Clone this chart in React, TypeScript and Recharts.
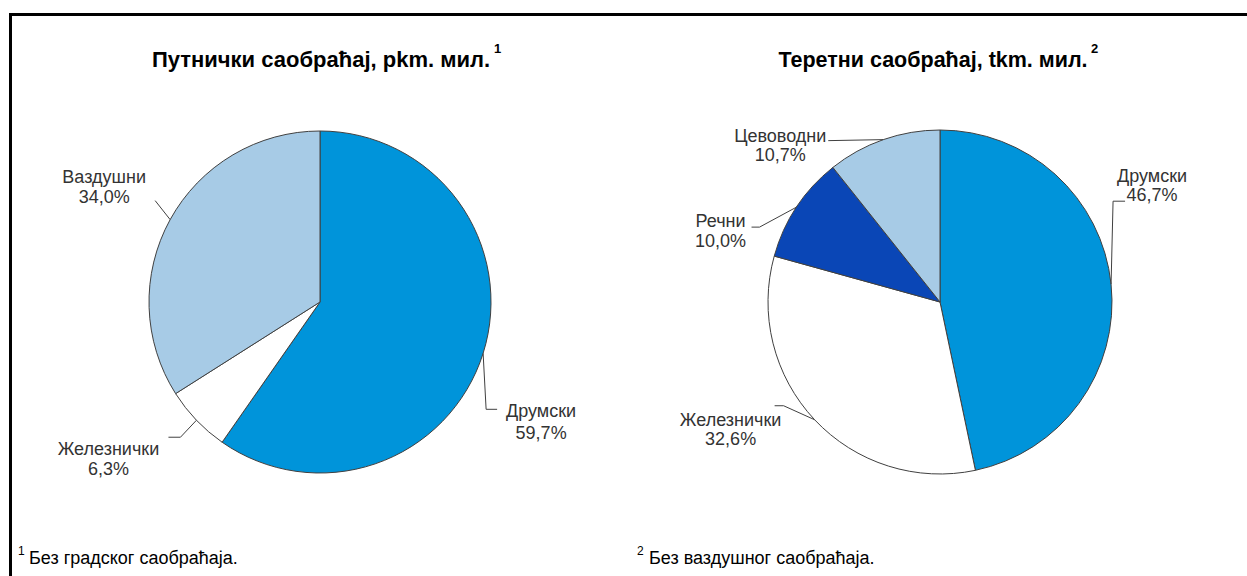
import React from 'react';
import { PieChart, Pie, Cell } from 'recharts';

const passengerNames = ['Друмски', 'Железнички', 'Ваздушни'];
const passengerValues = [59.7, 6.3, 34.0];
const freightNames = ['Друмски', 'Железнички', 'Речни', 'Цевоводни'];
const freightValues = [46.7, 32.6, 10.0, 10.7];

const passengerColors = ['#0094DA', '#FFFFFF', '#A7CBE6'];
const freightColors = ['#0094DA', '#FFFFFF', '#0A46B6', '#A7CBE6'];

const passengerTitle = 'Путнички саобраћај, pkm. мил.';
const freightTitle = 'Теретни саобраћај, tkm. мил.';
const passengerNote = 'Без градског саобраћаја.';
const freightNote = 'Без ваздушног саобраћаја.';

// leader layout: [d1x, d1y, d2x, textDx, baseline1, baseline2]
const passengerLayout = [
  [3, 56, 11, 44, 8, 30],
  [-16, 17, -12, -60, 18, 38],
  [-15, -19, 0, -51, -18, 2],
];
const freightLayout = [
  [2, -83, 12, 27, -19, 0],
  [-31, -14, -9, -44, 20, 39],
  [-37, 20, -8, -31, 0, 20],
  [-55, 1, 0, -48, 1, 20],
];

const passengerData = passengerNames.map((name, i) => ({ name, value: passengerValues[i] }));
const freightData = freightNames.map((name, i) => ({ name, value: freightValues[i] }));

const RAD = Math.PI / 180;
const FONT = "'Liberation Sans', Arial, sans-serif";
const fmt = (v: number) => v.toFixed(1).replace('.', ',') + '%';

const makeLabel = (layout: number[][]) => (props: any) => {
  const { cx, cy, midAngle, outerRadius, index, name, value } = props;
  const [d1x, d1y, d2x, tdx, b1, b2] = layout[index];
  const x0 = cx + outerRadius * Math.cos(-midAngle * RAD);
  const y0 = cy + outerRadius * Math.sin(-midAngle * RAD);
  const x1 = x0 + d1x;
  const y1 = y0 + d1y;
  const x2 = x1 + d2x;
  const tx = x2 + tdx;
  return (
    <g>
      <polyline
        points={`${x0},${y0} ${x1},${y1} ${x2},${y1}`}
        fill="none"
        stroke="#404040"
        strokeWidth={1}
      />
      <text x={tx} y={y1 + b1} textAnchor="middle" fill="#333333" fontSize={18} fontFamily={FONT}>
        {name}
      </text>
      <text x={tx} y={y1 + b2} textAnchor="middle" fill="#333333" fontSize={18} fontFamily={FONT}>
        {fmt(value)}
      </text>
    </g>
  );
};

export default function App() {
  return (
    <div style={{ position: 'absolute', left: 0, top: 0, width: 1247, height: 576, background: '#fff', overflow: 'hidden' }}>
      <div
        style={{
          position: 'absolute',
          left: 9,
          top: 13,
          width: 1247,
          height: 600,
          borderTop: '3px solid #000',
          borderLeft: '3px solid #000',
        }}
      />
      <div style={{ position: 'absolute', left: 0, top: 0 }}>
        <PieChart width={1247} height={576} margin={{ top: 0, right: 0, bottom: 0, left: 0 }}>
          <Pie
            data={passengerData}
            dataKey="value"
            nameKey="name"
            cx={320}
            cy={302}
            outerRadius={171}
            startAngle={90}
            endAngle={-270}
            stroke="#404040"
            strokeWidth={1}
            isAnimationActive={false}
            labelLine={false}
            label={makeLabel(passengerLayout)}
          >
            {passengerData.map((d, i) => (
              <Cell key={d.name} fill={passengerColors[i]} />
            ))}
          </Pie>
          <Pie
            data={freightData}
            dataKey="value"
            nameKey="name"
            cx={940}
            cy={302}
            outerRadius={172}
            startAngle={90}
            endAngle={-270}
            stroke="#404040"
            strokeWidth={1}
            isAnimationActive={false}
            labelLine={false}
            label={makeLabel(freightLayout)}
          >
            {freightData.map((d, i) => (
              <Cell key={d.name} fill={freightColors[i]} />
            ))}
          </Pie>
        </PieChart>
      </div>
      <svg width={1247} height={576} style={{ position: 'absolute', left: 0, top: 0, pointerEvents: 'none' }}>
        <text x={321} y={67} textAnchor="middle" fontSize={22} fontWeight="bold" fontFamily={FONT} fill="#000">
          {passengerTitle}
        </text>
        <text x={494} y={53} fontSize={13} fontWeight="bold" fontFamily={FONT} fill="#000">1</text>
        <text x={933} y={67} textAnchor="middle" fontSize={21.5} fontWeight="bold" fontFamily={FONT} fill="#000">
          {freightTitle}
        </text>
        <text x={1091} y={53} fontSize={13} fontWeight="bold" fontFamily={FONT} fill="#000">2</text>
        <text x={18} y={555} fontSize={12} fontFamily={FONT} fill="#000">1</text>
        <text x={29} y={564} fontSize={18} fontFamily={FONT} fill="#000">{passengerNote}</text>
        <text x={637} y={555} fontSize={12} fontFamily={FONT} fill="#000">2</text>
        <text x={649} y={564} fontSize={18} fontFamily={FONT} fill="#000">{freightNote}</text>
      </svg>
    </div>
  );
}
